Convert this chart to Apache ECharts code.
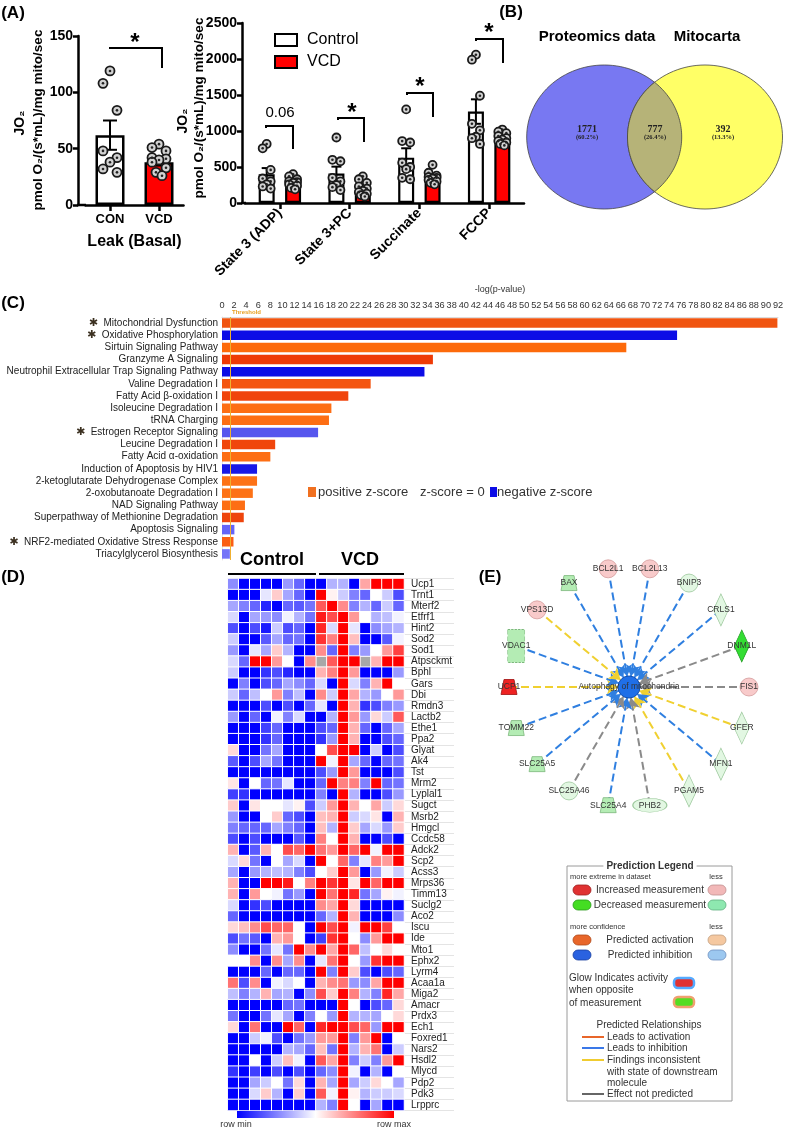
<!DOCTYPE html>
<html><head><meta charset="utf-8">
<script src="https://cdn.jsdelivr.net/npm/echarts@6/dist/echarts.min.js"></script>
<style>html,body{margin:0;padding:0;background:#fff;}#c{width:790px;height:1130px;}</style>
</head><body><div id="c"></div>
<script>
// ---------------- DATA ----------------
const leakCategories = ['CON', 'VCD'];
const leakMeans = [62, 38];
const leakSem = [13, 3];
const leakConPoints = [119, 108, 84, 48, 42, 38, 32, 29];
const leakVcdPoints = [54, 51, 48, 42, 41, 40, 38, 33, 29, 26];

const stateCategories = ['State 3 (ADP)', 'State 3+PC', 'Succinate', 'FCCP'];
const stateControlMeans = [400, 410, 630, 1270];
const stateVcdMeans = [290, 190, 360, 890];
const stateControlSem = [85, 95, 130, 170];
const stateVcdSem = [25, 30, 30, 30];
const stateControlPoints = [
  [820, 760, 460, 340, 300, 260, 230, 200],
  [910, 600, 580, 350, 300, 250, 220, 180],
  [1300, 860, 840, 560, 500, 470, 350, 330],
  [2060, 1990, 1490, 1100, 1010, 920, 900, 820]];
const stateVcdPoints = [
  [400, 370, 330, 300, 290, 280, 260, 240, 210, 190],
  [370, 330, 280, 230, 200, 170, 150, 130, 110, 90],
  [530, 420, 380, 360, 350, 340, 320, 300, 280, 260],
  [1020, 990, 970, 930, 900, 880, 860, 840, 820, 800]];
const stateSigLabels = ['0.06', '*', '*', '*'];

const vennSets = ['Proteomics data', 'Mitocarta'];
const vennCounts = [1771, 777, 392];
const vennPercents = ['(60.2%)', '(26.4%)', '(13.3%)'];

const pathwayNames = ['Mitochondrial Dysfunction', 'Oxidative Phosphorylation', 'Sirtuin Signaling Pathway',
  'Granzyme A Signaling', 'Neutrophil Extracellular Trap Signaling Pathway', 'Valine Degradation I',
  'Fatty Acid β-oxidation I', 'Isoleucine Degradation I', 'tRNA Charging', 'Estrogen Receptor Signaling',
  'Leucine Degradation I', 'Fatty Acid α-oxidation', 'Induction of Apoptosis by HIV1',
  '2-ketoglutarate Dehydrogenase Complex', '2-oxobutanoate Degradation I', 'NAD Signaling Pathway',
  'Superpathway of Methionine Degradation', 'Apoptosis Signaling', 'NRF2-mediated Oxidative Stress Response',
  'Triacylglycerol Biosynthesis'];
const pathwayLogP = [91.9, 75.3, 66.9, 34.9, 33.5, 24.6, 20.9, 18.1, 17.7, 15.9, 8.8, 8.0, 5.8, 5.8, 5.1, 3.8, 3.6, 2.05, 1.9, 1.3];
const pathwayStarred = [0, 1, 9, 18];
const thresholdLogP = 1.3;
const pathwayTicks = { min: 0, max: 92, step: 2 };

const heatSamples = ['C1','C2','C3','C4','C5','C6','C7','C8','V1','V2','V3','V4','V5','V6','V7','V8'];
const heatGenes = ['Ucp1','Trnt1','Mterf2','Etfrf1','Hint2','Sod2','Sod1','Atpsckmt','Bphl','Gars','Dbi','Rmdn3',
  'Lactb2','Ethe1','Ppa2','Glyat','Ak4','Tst','Mrm2','Lyplal1','Sugct','Msrb2','Hmgcl','Ccdc58','Adck2','Scp2',
  'Acss3','Mrps36','Timm13','Suclg2','Aco2','Iscu','Ide','Mto1','Ephx2','Lyrm4','Acaa1a','Miga2','Amacr','Prdx3',
  'Ech1','Foxred1','Nars2','Hsdl2','Mlycd','Pdp2','Pdk3','Lrpprc'];
const heatValues = [
  [-0.45,-1,-1,-1,-1,-0.4,-0.6,-1, -1,-0.3,-0.3,-1,0.35,1,1,1],
  [-1,-1,-1,-0.1,0.2,-0.35,-0.6,-1, 1,0.05,-0.2,-0.5,-0.6,0,-0.2,-0.7],
  [-0.35,-0.5,-0.6,-0.85,-1,-0.6,-0.65,-0.55, 0.65,1,0.45,-0.5,-0.3,-0.6,-0.2,-0.6],
  [-0.15,-1,-0.35,-0.4,-0.45,-0.05,-0.3,-0.55, 0.9,0.7,1,0.4,0,-0.3,-0.25,-0.05],
  [-0.7,-1,-0.7,-0.9,-0.2,-0.7,-0.6,-1, 0.85,-0.15,1,-0.1,-1,-0.45,-0.35,-0.3],
  [-0.2,-1,-1,-0.65,-0.35,-0.6,-0.55,-1, 0.8,0.5,1,0.25,-1,-1,-0.65,-0.05],
  [-0.4,-1,-0.1,-0.35,0.2,-0.3,-1,-1, 0.45,-0.6,1,-0.5,-0.4,0,0.4,0.75],
  [-0.15,-0.6,1,1,0.4,0,-1,0.45, null,0.65,1,1,null,0.3,1,1],
  [-0.2,-1,-1,-0.8,-0.7,-0.85,-1,-1, 0.3,0.5,1,0.4,-1,-1,-1,-0.4],
  [-1,-0.5,-1,-0.7,-0.6,-0.35,-0.45,-0.6, -0.15,-1,1,-0.15,-0.5,0.3,1,0],
  [-0.2,-0.6,-0.25,0,0.4,-0.5,-0.25,-1, 0.45,-0.2,1,0.35,-0.3,-0.4,0,0.4],
  [-1,-1,-1,-0.7,-1,-0.7,-1,-0.6, -0.1,-1,1,0.3,-0.8,-0.7,-0.5,-0.4],
  [-0.4,-1,-0.6,-1,-0.05,-0.5,-0.15,-1, -1,-0.3,1,0.4,-0.4,0.15,-0.2,0.65],
  [-1,-1,-1,-0.75,-0.6,-1,-1,-1, -0.7,-0.6,1,0.3,-0.6,-1,-0.6,-0.35],
  [-1,-1,-1,-0.8,-0.6,-1,-1,-1, -0.8,-0.4,1,0.3,-1,-1,-0.7,-0.6],
  [0.15,-1,-1,-0.55,-0.35,-1,-1,-1, 0,0.7,1,1,-1,-0.2,-1,-0.7],
  [-0.65,-1,-0.7,-0.35,-0.55,-1,-1,-1, 1,-0.05,1,-0.35,-0.6,-1,-0.6,-0.55],
  [-1,-1,-1,-1,-1,-1,-1,-1, -0.7,-0.4,1,0.4,-1,-1,-1,-0.7],
  [0.1,-1,0,-0.6,-0.55,-0.1,-1,-1, -0.6,1,0.5,0.5,-0.5,1,-0.6,-0.55],
  [-0.75,-0.8,-1,-1,-1,-1,-1,-1, -0.5,-1,1,-0.3,-1,-1,-0.7,-0.4],
  [0.2,-1,0.1,0,0,-0.1,0.05,-0.7, -0.2,0.4,1,0.3,0,0.35,-0.2,0.15],
  [-0.4,-1,-1,0,0.2,-0.6,-0.7,-1, 0.25,0.3,1,-0.2,-0.15,0.1,-1,0.3],
  [-0.5,-0.6,-0.6,-0.6,-0.35,-0.5,-0.6,-1, 0.25,-0.3,1,0.2,-0.35,-0.15,-0.4,0.2],
  [-0.7,-1,-0.7,-1,-1,-1,-0.65,-1, 0.5,0,1,0.3,-1,-1,-0.7,-1],
  [0.3,-1,-0.65,0.3,0,0.7,0.6,1, 0.55,0.4,1,0.6,1,-0.05,1,1],
  [-0.15,0.15,-0.55,-1,0,-0.35,-0.15,-1, 1,0,0.6,-0.5,-0.1,0.5,0.4,1],
  [-0.35,-1,-0.4,-0.3,-0.25,-0.3,-0.5,-0.7, 0,0.2,1,0.4,-1,-0.4,-0.05,-0.2],
  [0.3,-1,-1,1,1,0.9,0,0.5, 1,0.8,1,0.1,1,0.6,1,1],
  [0.3,-1,0.4,0,-0.05,-0.55,-0.4,-1, 1,0.55,1,0.85,-0.55,-0.35,0.05,-0.05],
  [-0.15,-1,-0.8,-0.7,-1,-1,-1,-1, 0.45,0.35,1,0.15,-1,-1,-1,-1],
  [-0.6,-1,-1,-1,-1,-1,-1,-1, -0.6,-0.3,1,0.3,-1,-1,-1,-0.45],
  [0.15,0.25,0.45,0.7,0.6,0.6,0,-1, 1,0.7,1,-0.05,1,1,0.75,0],
  [-0.7,-0.55,-0.65,-1,0.3,0.4,0,-1, -0.75,0.8,1,0,-0.45,0.4,1,1],
  [-0.45,-1,-1,-0.55,-0.1,-0.55,1,0.45, 1,0.35,1,0.6,-0.25,0,0.15,0],
  [0,0,0.45,-1,0.45,-0.35,0.45,-1, -0.1,0.55,1,0,-0.4,0.8,1,1],
  [-1,-1,-1,-0.6,-1,-0.6,-0.6,-1, 1,-0.5,1,0.2,-0.7,-1,-0.7,-0.6],
  [0.55,-0.7,0.45,-1,-0.05,-0.15,0,-1, 0.3,0.45,0.55,-0.4,-0.45,0.35,1,1],
  [-0.25,-0.5,-0.3,0.3,-0.35,-0.3,-1,-0.45, 0.7,0.2,1,0.5,-0.3,-0.5,0.85,0.35],
  [-1,-1,-1,-1,-1,-0.6,-0.55,-1, -1,-1,1,0,-1,-0.7,-0.6,0.15],
  [-0.55,-1,-1,-0.55,-0.1,-0.35,-1,-0.5, 0,-0.4,1,-0.3,-0.3,-0.35,0,0.15],
  [0.15,-1,0.55,-1,-1,1,0.6,-1, 0.85,1,1,0.7,0.6,-0.4,1,1],
  [-1,-1,-0.2,-0.05,-0.7,-1,-0.55,-0.4, 0.4,0.4,1,-0.5,0.4,1,-1,0],
  [-1,-1,-1,-1,-1,-0.3,-0.35,-0.6, 0.25,-0.55,1,-0.3,0.3,0.55,-1,-0.2],
  [-1,-1,0,-1,-0.2,0.25,-0.05,-1, 0.65,0.35,1,-0.5,-0.2,-0.5,0.4,1],
  [-0.8,-1,-0.75,-1,-0.7,-1,-0.7,-1, -0.6,-0.45,1,-0.05,-1,-0.3,-1,0],
  [-1,-1,-0.35,-0.2,0,-0.55,0.15,-1, 0.3,-0.35,1,-0.35,-0.2,0.15,0,-0.35],
  [-1,-1,-0.15,0.2,-0.3,-1,0.2,-1, 0.65,-0.05,1,0.05,-0.3,-0.2,-0.2,-0.15],
  [-1,-1,-1,-1,-1,-1,-1,-1, -0.3,-0.5,1,0,-1,-0.35,-1,-1]];

const netCenter = 'Autophagy of mitochondria';
const netGenes = ['BAX','BCL2L1','BCL2L13','BNIP3','CRLS1','DNM1L','FIS1','GFER','MFN1','PGAM5','PHB2',
  'SLC25A4','SLC25A46','SLC25A5','TOMM22','UCP1','VDAC1','VPS13D'];
const netMeasurement = ['down','upWeak','upWeak','downWeak','downWeak','downStrong','upWeak','downWeak','downWeak',
  'downWeak','downWeak','down','downWeak','down','down','up','down','upWeak'];
const netRelation = ['inhibition','inhibition','inhibition','inhibition','inhibition','none','none','inconsistent',
  'inhibition','inconsistent','none','inhibition','none','inhibition','inhibition','inconsistent','inhibition','inconsistent'];
const netMoleculeType = ['transporter','other','other','other','enzyme','enzyme','other','enzyme','enzyme','enzyme',
  'complex','transporter','other','transporter','transporter','transporter','channel','other'];

// ---------------- STYLE / LAYOUT ----------------
const FONT = '"Liberation Sans", Arial, Helvetica, sans-serif';
const SERIF = '"Liberation Serif", "Times New Roman", serif';
const pathwayColors = ['#f05410','#0c0ce6','#fd6a0a','#ee3a06','#0c0ce6','#f45510','#f0440c','#fd6e14','#fd6e14',
  '#5656ee','#f0460c','#fd6e14','#1818e6','#fd7216','#fd7216','#fd6e14','#ee440c','#6464f8','#fb5e14','#7474f8'];
const JIT1 = [0, -7, 7, -7, 7, 0, -7, 7, -3, 3];
const JIT2 = [0, -4, 4, -4, 4, 0, -4, 4, -2, 2];
const BAR_OFF = 13.2;
const plain = function (v) { return String(v); };

function txt(x, y, s, size, o) {
  o = o || {};
  const al = o.align || 'center', va = o.valign || 'middle';
  const st = {text: s, fill: o.color || '#000',
    font: (o.weight || 'normal') + ' ' + size + 'px ' + (o.family || FONT),
    align: al, verticalAlign: va, textAlign: al, textVerticalAlign: va};
  if (o.bg) { st.backgroundColor = o.bg; st.padding = [0, 3]; }
  return {type: 'text', x: x, y: y, rotation: o.rot || 0, z: 60, silent: true, style: st};
}
function pline(pts, color, w, dash) {
  return {type: 'polyline', z: 60, silent: true, shape: {points: pts},
    style: {stroke: color, lineWidth: w, fill: null, lineDash: dash || null}};
}
function box(x, y, w, h, fill, stroke, lw, r) {
  return {type: 'rect', z: 60, silent: true, shape: {x: x, y: y, width: w, height: h, r: r || 0},
    style: {fill: fill, stroke: stroke || null, lineWidth: lw || 0}};
}
function star(x, y) { return txt(x, y + 6, '*', 24, {weight: 'bold'}); }

const G = [];
G.push(txt(13, 13, '(A)', 17, {weight: 'bold'}));
G.push(txt(511, 12, '(B)', 17, {weight: 'bold'}));
G.push(txt(13, 303, '(C)', 17, {weight: 'bold'}));
G.push(txt(13, 577, '(D)', 17, {weight: 'bold'}));
G.push(txt(490, 577, '(E)', 17, {weight: 'bold'}));

G.push(txt(20, 123, 'JO₂', 14, {weight: 'bold', rot: Math.PI / 2}));
G.push(txt(38, 120, 'pmol O₂/(s*mL)/mg mito/sec', 13.5, {weight: 'bold', rot: Math.PI / 2}));
G.push(txt(183, 121, 'JO₂', 14, {weight: 'bold', rot: Math.PI / 2}));
G.push(txt(199, 108, 'pmol O₂/(s*mL)/mg mito/sec', 13.5, {weight: 'bold', rot: Math.PI / 2}));
G.push(pline([[77, 205], [86, 205]], '#000', 2.5));
G.push(pline([[241, 203], [246, 203]], '#000', 2.5));
G.push(pline([[109, 48], [162, 48], [162, 68]], '#000', 2));
G.push(star(135, 37));
G.push(pline([[266, 128], [266, 126], [293, 126], [293, 149]], '#000', 2));
G.push(txt(280, 113, stateSigLabels[0], 15));
G.push(pline([[338, 120], [338, 118], [364, 118], [364, 142]], '#000', 2));
G.push(star(352, 107));
G.push(pline([[407, 95], [407, 93], [433, 93], [433, 117]], '#000', 2));
G.push(star(420, 81));
G.push(pline([[476, 41], [476, 39], [503, 39], [503, 63]], '#000', 2));
G.push(star(489, 27));

(function () {
  const L = {cx: 604.2, cy: 137, rx: 77.5, ry: 72};
  const R = {cx: 705, cy: 137, rx: 77.5, ry: 72};
  function arc(c, a0, a1, n) {
    const p = [];
    for (let i = 0; i <= n; i++) { const a = a0 + (a1 - a0) * i / n; p.push([c.cx + c.rx * Math.cos(a), c.cy + c.ry * Math.sin(a)]); }
    return p;
  }
  const th = Math.acos((R.cx - L.cx) / 2 / L.rx);
  G.push({type: 'polygon', z: 50, silent: true, shape: {points: arc(L, 0, Math.PI * 2, 120)}, style: {fill: '#7878f2', stroke: '#444', lineWidth: 0.8}});
  G.push({type: 'polygon', z: 51, silent: true, shape: {points: arc(R, 0, Math.PI * 2, 120)}, style: {fill: '#ffff66', stroke: '#444', lineWidth: 0.8}});
  const lens = arc(L, -th, th, 60).concat(arc(R, Math.PI - th, Math.PI + th, 60));
  G.push({type: 'polygon', z: 52, silent: true, shape: {points: lens}, style: {fill: '#b6b378', stroke: '#444', lineWidth: 0.8}});
  G.push(txt(597, 37, vennSets[0], 15, {weight: 'bold'}));
  G.push(txt(707, 37, vennSets[1], 15, {weight: 'bold'}));
  const xs = [587, 655, 723];
  for (let i = 0; i < 3; i++) {
    G.push(txt(xs[i], 129, String(vennCounts[i]), 10, {weight: 'bold', family: SERIF, color: '#222'}));
    G.push(txt(xs[i], 137, vennPercents[i], 6.5, {weight: 'bold', family: SERIF, color: '#222'}));
  }
})();

G.push(txt(232, 312, 'Threshold', 6, {align: 'left', color: '#e8a020', weight: 'bold'}));
G.push(box(308, 487, 8, 10, '#f07020'));
G.push(txt(318, 492, 'positive z-score', 13, {align: 'left', color: '#333'}));
G.push(txt(420, 492, 'z-score = 0', 13, {align: 'left', color: '#333'}));
G.push(box(490, 487, 7, 10, '#0c0ce6'));
G.push(txt(497, 492, 'negative z-score', 13, {align: 'left', color: '#333'}));

G.push(txt(272, 560, 'Control', 18, {weight: 'bold'}));
G.push(txt(360, 560, 'VCD', 18, {weight: 'bold'}));
G.push(pline([[228, 574], [316, 574]], '#000', 2));
G.push(pline([[319, 574], [404, 574]], '#000', 2));
G.push({type: 'rect', z: 60, silent: true, shape: {x: 237, y: 1111, width: 157, height: 7},
  style: {fill: new echarts.graphic.LinearGradient(0, 0, 1, 0, [
    {offset: 0, color: '#0000ff'}, {offset: 0.5, color: '#ffffff'}, {offset: 1, color: '#ff0000'}])}});
G.push(txt(236, 1125, 'row min', 9, {color: '#333'}));
G.push(txt(394, 1125, 'row max', 9, {color: '#333'}));

(function () {
  G.push(box(567, 866, 165, 235, null, '#9a9a9a', 1));
  G.push(txt(650, 866, 'Prediction Legend', 10, {weight: 'bold', color: '#333', bg: '#fff'}));
  function pill(cx, cy, fill, stroke, w, h) {
    w = w || 18; h = h || 10;
    return box(cx - w / 2, cy - h / 2, w, h, fill, stroke || '#777', 0.8, h / 2);
  }
  const c = '#333';
  G.push(txt(570, 877, 'more extreme in dataset', 7.5, {align: 'left', color: c}));
  G.push(txt(716, 877, 'less', 7.5, {color: c}));
  G.push(pill(582, 890, '#e03232', '#a02020'));
  G.push(txt(650, 890, 'Increased measurement', 10, {color: c}));
  G.push(pill(717, 890, '#f2b8b8', '#c09090'));
  G.push(pill(582, 905, '#44dd22', '#2a9a1a'));
  G.push(txt(650, 905, 'Decreased measurement', 10, {color: c}));
  G.push(pill(717, 905, '#8ee8b0', '#60b080'));
  G.push(txt(570, 927, 'more confidence', 7.5, {align: 'left', color: c}));
  G.push(txt(716, 927, 'less', 7.5, {color: c}));
  G.push(pill(582, 940, '#e8662a', '#b04a1a'));
  G.push(txt(650, 940, 'Predicted activation', 10, {color: c}));
  G.push(pill(717, 940, '#f5c8a0', '#c0a080'));
  G.push(pill(582, 955, '#2a62e0', '#1a40a0'));
  G.push(txt(650, 955, 'Predicted inhibition', 10, {color: c}));
  G.push(pill(717, 955, '#9cc8f0', '#7090c0'));
  G.push(txt(569, 978, 'Glow Indicates activity', 10, {align: 'left', color: c}));
  G.push(txt(569, 990, 'when opposite', 10, {align: 'left', color: c}));
  G.push(txt(569, 1003, 'of measurement', 10, {align: 'left', color: c}));
  G.push(box(674, 978, 20, 10, '#e03232', '#55aaff', 2.5, 4));
  G.push(box(674, 997, 20, 10, '#55dd22', '#f0a070', 2.5, 4));
  G.push(txt(649, 1025, 'Predicted Relationships', 10, {color: c}));
  G.push(pline([[582, 1037], [604, 1037]], '#e8662a', 2));
  G.push(txt(607, 1037, 'Leads to activation', 10, {align: 'left', color: c}));
  G.push(pline([[582, 1048], [604, 1048]], '#3a78e8', 2));
  G.push(txt(607, 1048, 'Leads to inhibition', 10, {align: 'left', color: c}));
  G.push(pline([[582, 1060], [604, 1060]], '#f0cc30', 2));
  G.push(txt(607, 1060, 'Findings inconsistent', 10, {align: 'left', color: c}));
  G.push(txt(607, 1072, 'with state of downstream', 10, {align: 'left', color: c}));
  G.push(txt(607, 1083, 'molecule', 10, {align: 'left', color: c}));
  G.push(pline([[582, 1094], [604, 1094]], '#666', 2));
  G.push(txt(607, 1094, 'Effect not predicted', 10, {align: 'left', color: c}));
})();

// ---------------- SERIES HELPERS ----------------
function dotData(cat, pts, base, jit) {
  return pts.map(function (v, k) { return {value: [cat, v], symbolOffset: [base + jit[k % jit.length], 0]}; });
}
function errSeries(xi, yi, means, sems, off, cap, z) {
  return {type: 'custom', xAxisIndex: xi, yAxisIndex: yi, z: z || 3, silent: true,
    data: means.map(function (m, i) { return [i, m, sems[i]]; }),
    renderItem: function (params, api) {
      const cIdx = api.value(0), m = api.value(1), s = api.value(2);
      const t = api.coord([cIdx, m + s]), b = api.coord([cIdx, m - s]);
      const x = t[0] + off;
      const st = {stroke: '#000', lineWidth: 2};
      return {type: 'group', children: [
        {type: 'line', shape: {x1: x, y1: t[1], x2: x, y2: b[1]}, style: st},
        {type: 'line', shape: {x1: x - cap, y1: t[1], x2: x + cap, y2: t[1]}, style: st},
        {type: 'line', shape: {x1: x - cap, y1: b[1], x2: x + cap, y2: b[1]}, style: st}]};
    }};
}
function dotSeries(xi, yi, data, size) {
  return [
    {type: 'scatter', name: 'dots', xAxisIndex: xi, yAxisIndex: yi, z: 4, silent: true, symbol: 'circle', symbolSize: size,
      itemStyle: {color: '#d2d2d2', borderColor: '#1a1a1a', borderWidth: 1.8, opacity: 1}, data: data},
    {type: 'scatter', name: 'dotc', xAxisIndex: xi, yAxisIndex: yi, z: 5, silent: true, symbol: 'circle', symbolSize: 2.6,
      itemStyle: {color: '#222', opacity: 1}, data: data}];
}

const leakDots = dotData(0, leakConPoints, 0, JIT1).concat(dotData(1, leakVcdPoints, 0, JIT1));
let stateDots = [];
stateCategories.forEach(function (c, i) {
  stateDots = stateDots.concat(dotData(i, stateControlPoints[i], -BAR_OFF, JIT2), dotData(i, stateVcdPoints[i], BAR_OFF, JIT2));
});

const heatData = [];
heatValues.forEach(function (row, r) { row.forEach(function (v, c) { if (v !== null) heatData.push([c, r, v]); }); });

const NET_C = [629, 687], NET_R = 120;
const measColor = {up: ['#ee2222', '#a01010'], upWeak: ['#f8caca', '#d49a9a'], down: ['#b4ecb4', '#7cb87c'],
  downWeak: ['#e2f7e2', '#9cc89c'], downStrong: ['#33dd33', '#1f9a1f']};
const relColor = {inhibition: '#2f7fe0', inconsistent: '#f0d030', none: '#8a8a8a'};
const typeSymbol = {
  transporter: ['path://M3,0L13,0L16,14L0,14Z', [16, 15]],
  other: ['circle', [18, 18]],
  enzyme: ['diamond', [15, 32]],
  complex: ['circle', [34, 14]],
  channel: ['rect', [17, 33]]};
const netNodes = [{name: netCenter, x: NET_C[0], y: NET_C[1], symbol: 'circle', symbolSize: 22,
  itemStyle: {color: '#1f6fe8', borderColor: '#1450b0', borderWidth: 1},
  label: {fontSize: 8.5, color: '#333'}}];
netGenes.forEach(function (g, i) {
  const a = (330 + 20 * i) * Math.PI / 180;
  const col = measColor[netMeasurement[i]];
  const sym = typeSymbol[netMoleculeType[i]];
  netNodes.push({name: g, x: NET_C[0] + NET_R * Math.sin(a), y: NET_C[1] - NET_R * Math.cos(a),
    symbol: sym[0], symbolSize: sym[1],
    itemStyle: {color: col[0], borderColor: col[1], borderWidth: 0.8,
      borderType: netMoleculeType[i] === 'channel' ? 'dashed' : 'solid'}});
});
const netLinks = netGenes.map(function (g, i) {
  return {source: g, target: netCenter, lineStyle: {color: relColor[netRelation[i]]}};
});
let bx0 = Infinity, bx1 = -Infinity, by0 = Infinity, by1 = -Infinity;
netNodes.forEach(function (n) { bx0 = Math.min(bx0, n.x); bx1 = Math.max(bx1, n.x); by0 = Math.min(by0, n.y); by1 = Math.max(by1, n.y); });

// ---------------- OPTION ----------------
const axBlack = {color: '#000', width: 2.5};
const option = {
  animation: false,
  backgroundColor: '#fff',
  textStyle: {fontFamily: FONT},
  grid: [
    {left: 85.5, top: 36, width: 98, height: 169, outerBoundsMode: 'none', containLabel: false},
    {left: 245, top: 23, width: 279, height: 180, outerBoundsMode: 'none', containLabel: false},
    {left: 222, top: 317, width: 556, height: 243, outerBoundsMode: 'none', containLabel: false},
    {left: 227.7, top: 578.5, width: 176.3, height: 532, outerBoundsMode: 'none', containLabel: false,
      show: true, backgroundColor: '#a8a8a8', borderWidth: 0}
  ],
  xAxis: [
    {type: 'category', gridIndex: 0, data: leakCategories,
      axisLine: {show: true, lineStyle: axBlack}, axisTick: {show: true, alignWithLabel: true, length: 6, lineStyle: axBlack},
      axisLabel: {color: '#000', fontWeight: 'bold', fontSize: 13, margin: 8, fontFamily: FONT},
      name: 'Leak (Basal)', nameLocation: 'middle', nameGap: 29,
      nameTextStyle: {color: '#000', fontWeight: 'bold', fontSize: 16, fontFamily: FONT}},
    {type: 'category', gridIndex: 1, data: stateCategories,
      axisLine: {show: true, lineStyle: axBlack}, axisTick: {show: true, alignWithLabel: true, length: 6, lineStyle: axBlack},
      axisLabel: {color: '#000', fontWeight: 'bold', fontSize: 14, margin: 8, rotate: 45, interval: 0, fontFamily: FONT}},
    {type: 'value', gridIndex: 2, position: 'top', min: pathwayTicks.min, max: pathwayTicks.max, interval: pathwayTicks.step,
      axisLine: {show: true, lineStyle: {color: '#dcdcdc', width: 1}}, axisTick: {show: false}, splitLine: {show: false},
      axisLabel: {fontSize: 9.2, color: '#333', margin: 7, fontFamily: FONT, formatter: plain},
      name: '-log(p-value)', nameLocation: 'middle', nameGap: 23, nameTextStyle: {fontSize: 9, color: '#333', fontFamily: FONT}},
    {type: 'category', gridIndex: 3, data: heatSamples, show: false}
  ],
  yAxis: [
    {type: 'value', gridIndex: 0, min: 0, max: 150, interval: 50, offset: 7.5,
      axisLine: {show: true, lineStyle: axBlack}, axisTick: {show: true, length: 5, lineStyle: axBlack},
      axisLabel: {color: '#000', fontWeight: 'bold', fontSize: 14, margin: 5, fontFamily: FONT, formatter: plain}, splitLine: {show: false}},
    {type: 'value', gridIndex: 1, min: 0, max: 2500, interval: 500, offset: 3,
      axisLine: {show: true, lineStyle: axBlack}, axisTick: {show: true, length: 5, lineStyle: axBlack},
      axisLabel: {color: '#000', fontWeight: 'bold', fontSize: 14, margin: 5, fontFamily: FONT, formatter: plain}, splitLine: {show: false}},
    {type: 'category', gridIndex: 2, inverse: true, data: pathwayNames,
      axisLine: {show: true, lineStyle: {color: '#e4e4e4', width: 1}}, axisTick: {show: false},
      axisLabel: {fontSize: 10, color: '#222', margin: 4, interval: 0, fontFamily: FONT,
        formatter: function (v, i) { return pathwayStarred.indexOf(i) >= 0 ? '{s|✱}  ' + v : v; },
        rich: {s: {fontSize: 11, color: '#3b3020', fontFamily: '"DejaVu Sans", sans-serif'}}}},
    {type: 'category', gridIndex: 3, inverse: true, position: 'right', data: heatGenes,
      axisLine: {show: false}, axisTick: {show: true, length: 50, lineStyle: {color: '#e4e4e4', width: 1}},
      axisLabel: {fontSize: 10, color: '#222', margin: 7, interval: 0, fontFamily: FONT}}
  ],
  legend: [{data: ['Control', 'VCD'], orient: 'vertical', left: 269, top: 27, itemWidth: 22, itemHeight: 12, itemGap: 6,
    icon: 'rect', selectedMode: false, textStyle: {fontSize: 16, color: '#000', fontFamily: FONT, padding: [0, 0, 0, 5]}}],
  visualMap: [{type: 'continuous', show: false, seriesIndex: 11, min: -1, max: 1, dimension: 2,
    inRange: {color: ['#0000ff', '#ffffff', '#ff0000']}}],
  series: [].concat(
    [{type: 'bar', name: 'leak', xAxisIndex: 0, yAxisIndex: 0, barWidth: 29, z: 2, silent: true,
      itemStyle: {borderColor: '#000', borderWidth: 2.5},
      data: leakMeans.map(function (v, i) { return {value: v, itemStyle: {color: i === 0 ? '#ffffff' : '#ff0000'}}; })},
     errSeries(0, 0, leakMeans, leakSem, 0, 7)],
    dotSeries(0, 0, leakDots, 9),
    [{type: 'bar', name: 'Control', xAxisIndex: 1, yAxisIndex: 1, barWidth: 16, z: 2, silent: true,
      itemStyle: {color: '#ffffff', borderColor: '#000', borderWidth: 2.2}, data: stateControlMeans},
     {type: 'bar', name: 'VCD', xAxisIndex: 1, yAxisIndex: 1, barWidth: 16, barGap: '65%', z: 2, silent: true,
      itemStyle: {color: '#ff0000', borderColor: '#000', borderWidth: 2.2}, data: stateVcdMeans},
     errSeries(1, 1, stateControlMeans, stateControlSem, -BAR_OFF, 5),
     errSeries(1, 1, stateVcdMeans, stateVcdSem, BAR_OFF, 5)],
    dotSeries(1, 1, stateDots, 8),
    [{type: 'bar', name: 'pathways', xAxisIndex: 2, yAxisIndex: 2, barWidth: 9.5, silent: true,
      data: pathwayLogP.map(function (v, i) { return {value: v, itemStyle: {color: pathwayColors[i]}}; }),
      markLine: {silent: true, symbol: 'none', label: {show: false}, animation: false,
        lineStyle: {color: '#f0b030', width: 1, type: 'solid'}, data: [{xAxis: thresholdLogP}]}},
     {type: 'heatmap', name: 'heat', xAxisIndex: 3, yAxisIndex: 3, silent: true,
      itemStyle: {borderColor: '#ffffff', borderWidth: 1}, data: heatData},
     {type: 'graph', name: 'net', layout: 'none', roam: false, silent: true,
      left: bx0, top: by0, width: bx1 - bx0, height: by1 - by0,
      edgeSymbol: ['none', 'arrow'], edgeSymbolSize: [0, 11],
      label: {show: true, position: 'inside', fontSize: 8.5, color: '#333', fontFamily: FONT},
      lineStyle: {width: 2, type: [8, 4], opacity: 1, curveness: 0},
      emphasis: {disabled: true},
      data: netNodes, links: netLinks}]
  ),
  graphic: {elements: G}
};
const chart = echarts.init(document.getElementById('c'));
chart.setOption(option);
</script></body></html>
